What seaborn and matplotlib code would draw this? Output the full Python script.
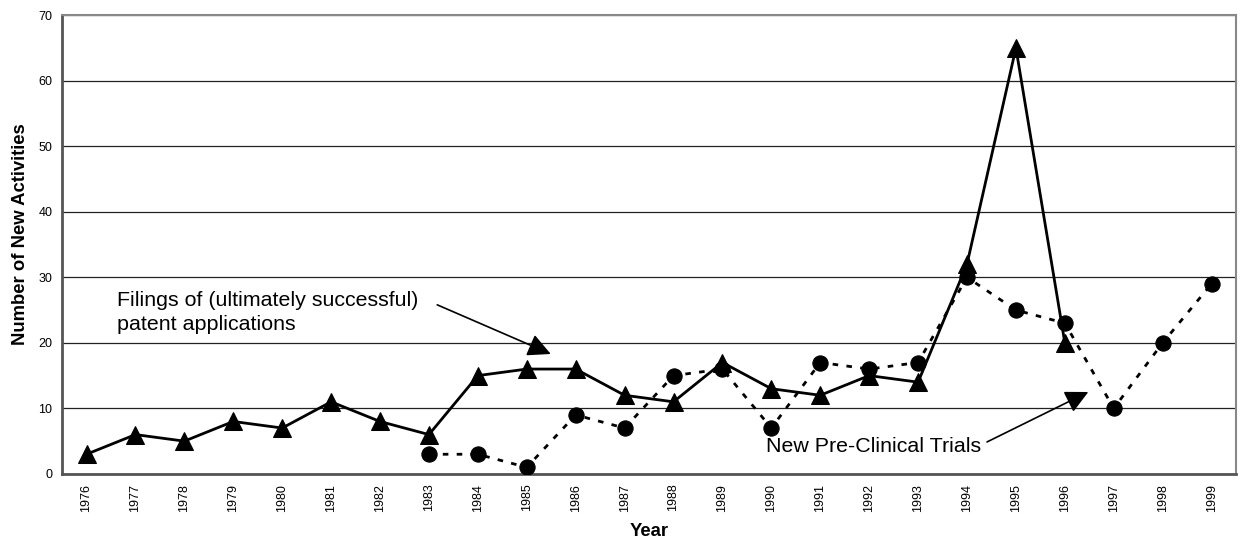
import seaborn as sns
import matplotlib.pyplot as plt
import pandas as pd
import numpy as np

patent_years = list(range(1976, 1997))
patent_counts = [3, 6, 5, 8, 7, 11, 8, 6, 15, 16, 16, 12, 11, 17, 13, 12, 15, 14, 32, 65, 20]
trial_years = list(range(1983, 2000))
trial_counts = [3, 3, 1, 9, 7, 15, 16, 7, 17, 16, 17, 30, 25, 23, 10, 20, 29]
all_years = list(range(1976, 2000))

sns.set_style('white')
plt.rcParams['font.family'] = ['Liberation Sans', 'DejaVu Sans']
plt.rcParams['text.color'] = 'black'
plt.rcParams['axes.labelcolor'] = 'black'
plt.rcParams['xtick.color'] = 'black'
plt.rcParams['ytick.color'] = 'black'

patents = pd.DataFrame({'Year': patent_years, 'Count': patent_counts})
trials = pd.DataFrame({'Year': trial_years, 'Count': trial_counts})

fig = plt.figure(figsize=(12.41, 5.41), dpi=100)
ax = fig.add_axes([0.05, 0.124, 0.946, 0.848])

sns.lineplot(data=trials, x='Year', y='Count', color='black', linewidth=2,
             linestyle=(0, (2, 3)), marker='o', markersize=11,
             markeredgecolor='black', ax=ax, zorder=3)
sns.lineplot(data=patents, x='Year', y='Count', color='black', linewidth=2,
             marker='^', markersize=13, markeredgecolor='black', ax=ax, zorder=4)

ax.set_xlim(1975.5, 1999.5)
ax.set_ylim(0, 70)
ax.set_yticks(np.arange(0, 71, 10))
ax.set_xticks(all_years)
ax.set_xticklabels([str(y) for y in all_years], rotation=90, fontsize=9)
ax.set_xticks(np.arange(1975.5, 2000, 1), minor=True)
ax.tick_params(axis='x', which='major', length=0, pad=7)
ax.tick_params(axis='x', which='minor', length=5, width=1, color='#444444', direction='out')
ax.tick_params(axis='y', length=5, width=1, color='#444444', direction='out', labelsize=9, pad=2)

ax.yaxis.grid(True, color='#222222', linewidth=0.9)
ax.set_axisbelow(True)
for s in ['left', 'bottom']:
    ax.spines[s].set_color('#555555')
    ax.spines[s].set_linewidth(2)
for s in ['top', 'right']:
    ax.spines[s].set_color('#888888')
    ax.spines[s].set_linewidth(1.5)

ax.set_xlabel('Year', fontsize=13.3, fontweight='bold', labelpad=8)
ax.set_ylabel('Number of New Activities', fontsize=13.3, fontweight='bold')
ax.yaxis.set_label_coords(-0.028, 0.523)

arrow = dict(arrowstyle='-|>,head_length=1.4,head_width=0.7', color='black',
             linewidth=1.2, shrinkA=0, shrinkB=0)
# va='baseline' on multi-line text anchors the last line
ax.text(1976.62, 21.96, 'Filings of (ultimately successful)\npatent applications',
        fontsize=15.4, va='baseline', ha='left', linespacing=1.3)
ax.annotate('', xy=(1985.49, 18.3), xytext=(1983.17, 25.8), arrowprops=arrow)
ax.text(1989.9, 3.36, 'New Pre-Clinical Trials', fontsize=15.4, va='baseline', ha='left')
ax.annotate('', xy=(1996.48, 12.5), xytext=(1994.41, 4.88), arrowprops=arrow)

plt.savefig('out.png', dpi=100)
